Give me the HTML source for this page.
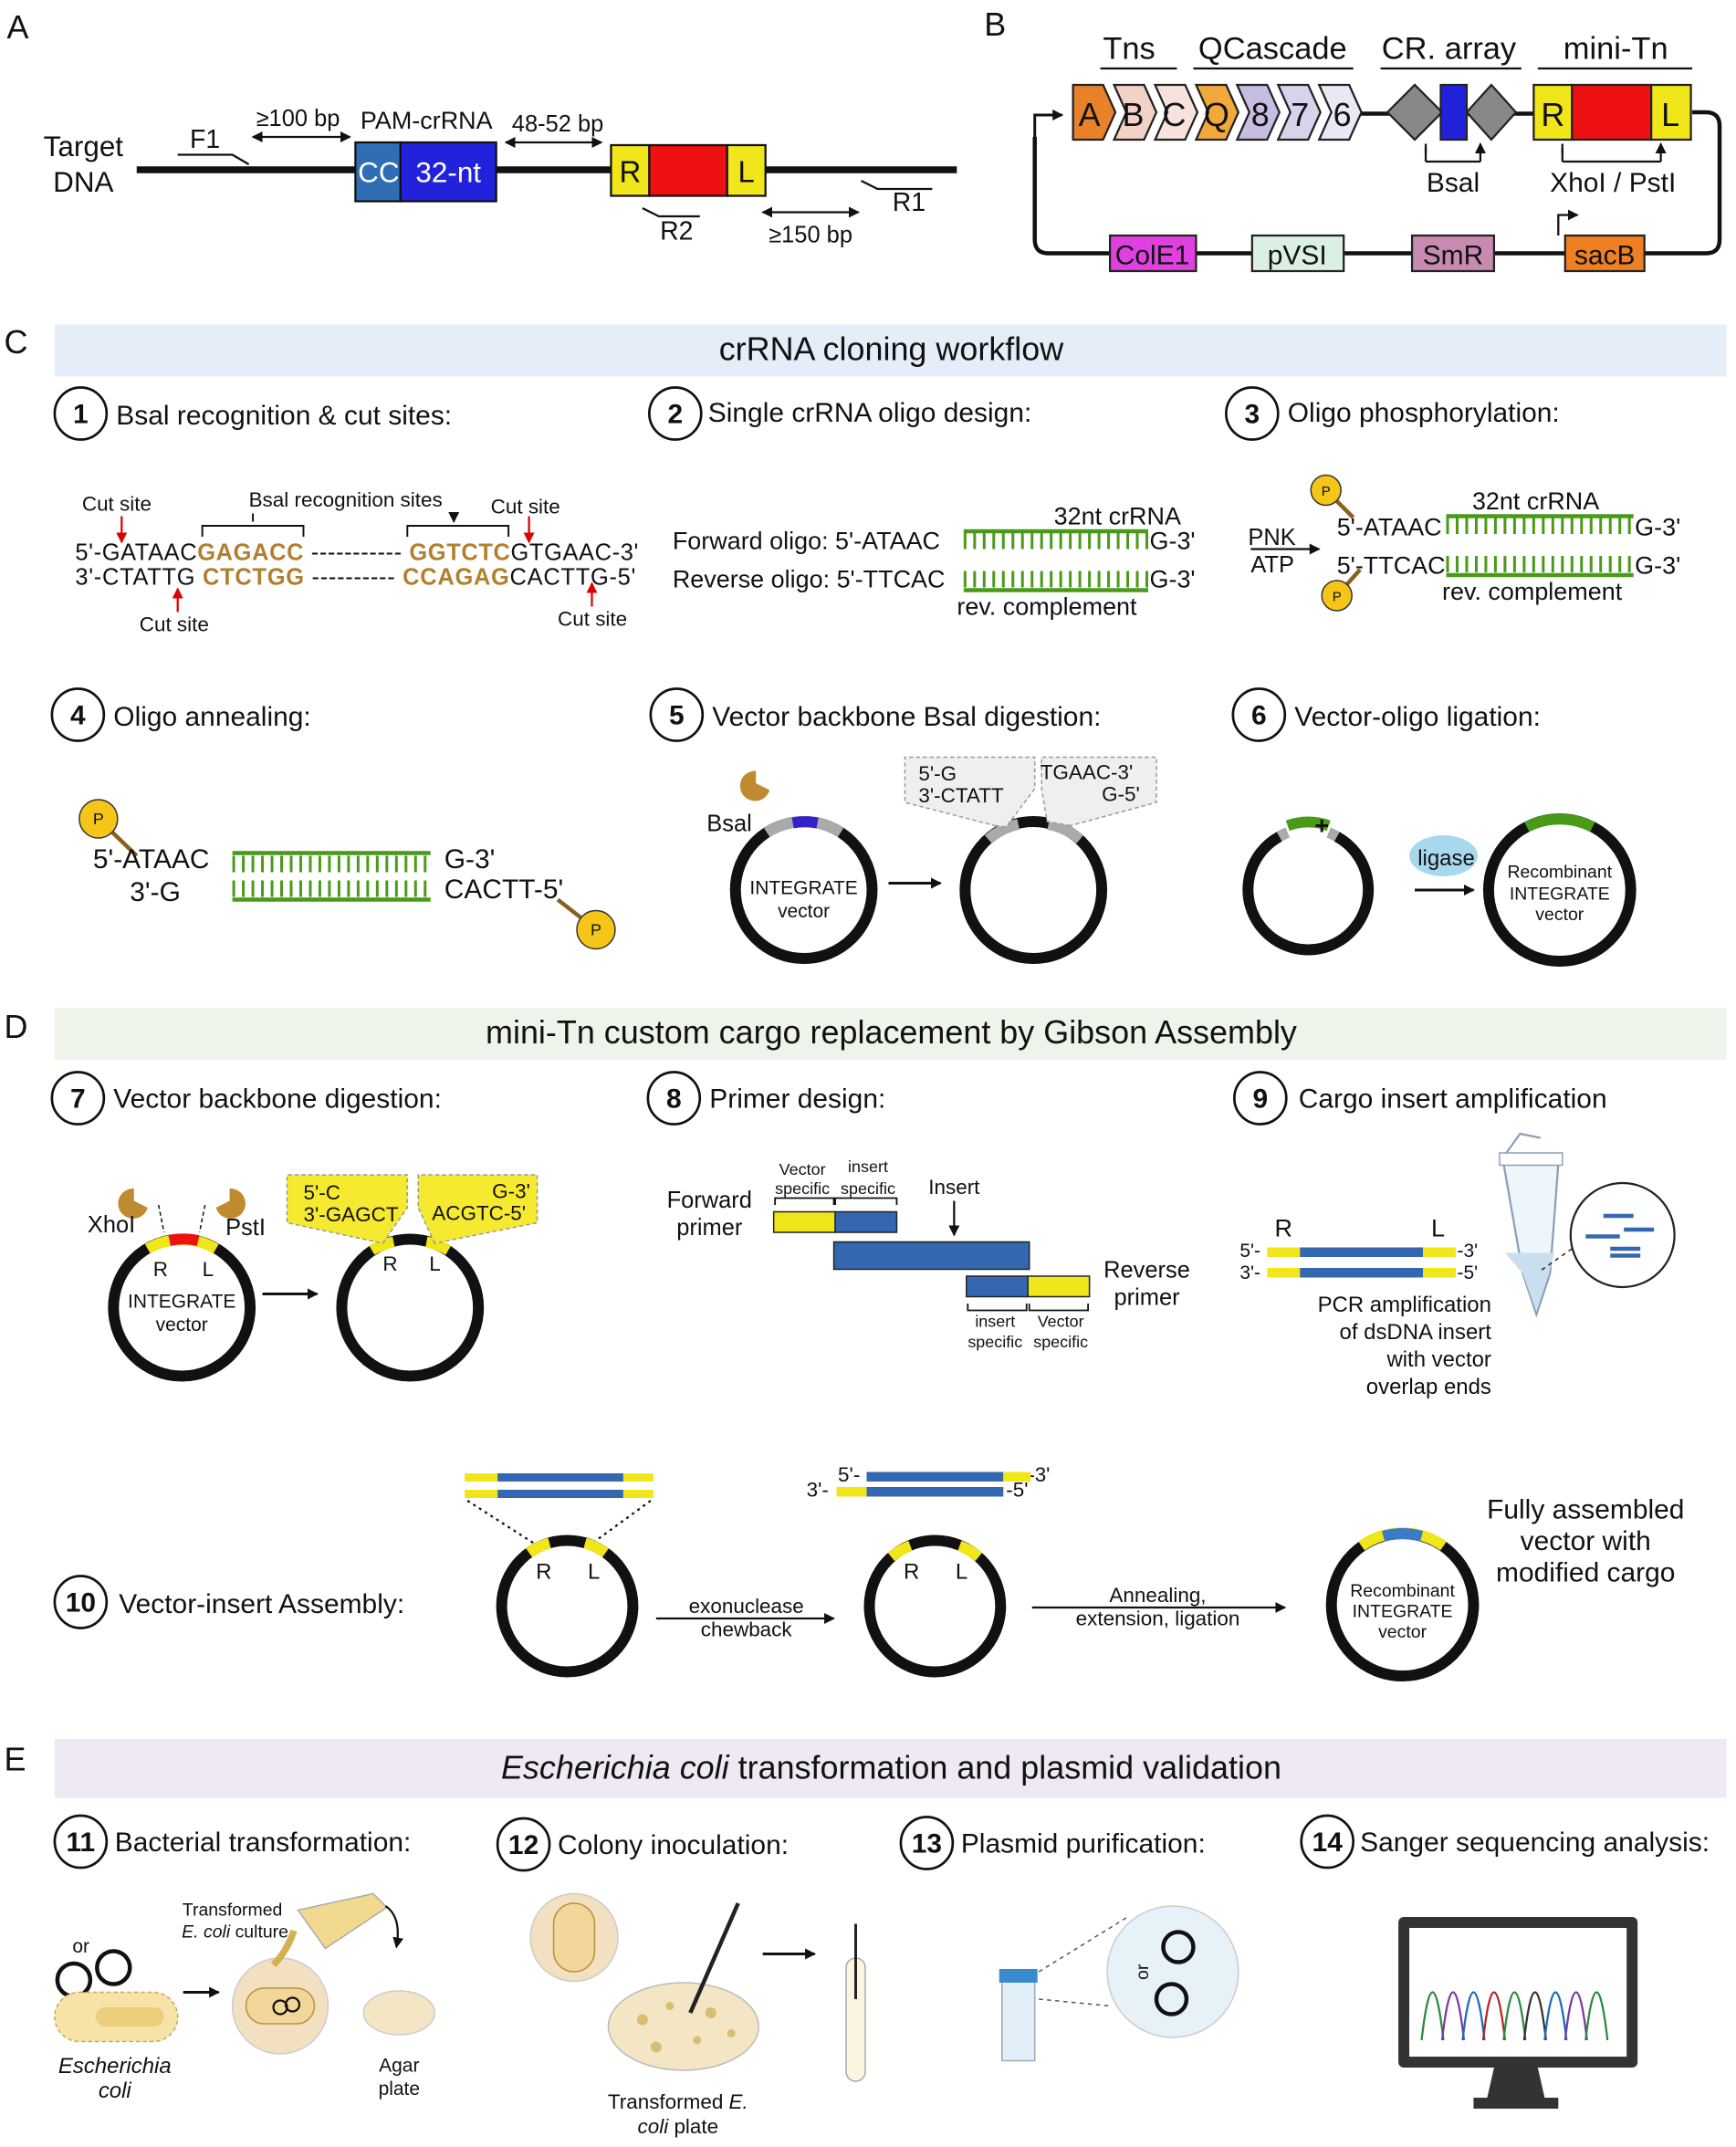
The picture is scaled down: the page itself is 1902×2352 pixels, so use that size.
<!DOCTYPE html>
<html><head><meta charset="utf-8"><style>
html,body{margin:0;padding:0;background:#fff}
svg{display:block}
text{font-family:"Liberation Sans",sans-serif;fill:#111}
</style></head><body>
<svg width="1902" height="2352" viewBox="0 0 1270 1568" preserveAspectRatio="none" xmlns="http://www.w3.org/2000/svg">
<defs>
<marker id="ah" markerWidth="8" markerHeight="8" refX="7" refY="4" orient="auto-start-reverse" markerUnits="userSpaceOnUse"><path d="M0,0 L8,4 L0,8 z" fill="#111"/></marker>
<marker id="ahr" markerWidth="8" markerHeight="8" refX="7" refY="4" orient="auto" markerUnits="userSpaceOnUse"><path d="M0,0 L8,4 L0,8 z" fill="#d00"/></marker>
</defs>

<!-- Panel A -->
<text x="5" y="28" font-size="24">A</text>
<text x="61" y="114" font-size="21" text-anchor="middle">Target</text>
<text x="61" y="140" font-size="21" text-anchor="middle">DNA</text>
<line x1="100" y1="124" x2="700" y2="124" stroke="#111" stroke-width="5"/>
<rect x="260" y="104" width="33" height="43" fill="#2f6db5" stroke="#111" stroke-width="1.5"/>
<rect x="293" y="104" width="70" height="43" fill="#2222dd" stroke="#111" stroke-width="1.5"/>
<text x="277" y="133" font-size="21" text-anchor="middle" style="fill:#fff">CC</text>
<text x="328" y="133" font-size="21" text-anchor="middle" style="fill:#fff">32-nt</text>
<rect x="447" y="106" width="28" height="37" fill="#f0e61a" stroke="#111" stroke-width="1.5"/>
<rect x="475" y="106" width="57" height="37" fill="#ee1111" stroke="#111" stroke-width="1.5"/>
<rect x="532" y="106" width="28" height="37" fill="#f0e61a" stroke="#111" stroke-width="1.5"/>
<text x="461" y="133" font-size="22" text-anchor="middle">R</text>
<text x="546" y="133" font-size="22" text-anchor="middle">L</text>
<text x="150" y="108" font-size="19" text-anchor="middle">F1</text>
<polyline points="130,113 170,113 182,120" fill="none" stroke="#111" stroke-width="1.5"/>
<text x="218" y="92" font-size="17" text-anchor="middle">≥100 bp</text>
<line x1="185" y1="100" x2="256" y2="100" stroke="#111" stroke-width="1.5" marker-start="url(#ah)" marker-end="url(#ah)"/>
<text x="312" y="94" font-size="18" text-anchor="middle">PAM-crRNA</text>
<text x="408" y="96" font-size="17" text-anchor="middle">48-52 bp</text>
<line x1="370" y1="104" x2="440" y2="104" stroke="#111" stroke-width="1.5" marker-start="url(#ah)" marker-end="url(#ah)"/>
<polyline points="470,152 482,158 512,158" fill="none" stroke="#111" stroke-width="1.5"/>
<text x="495" y="175" font-size="19" text-anchor="middle">R2</text>
<polyline points="630,132 642,138 682,138" fill="none" stroke="#111" stroke-width="1.5"/>
<text x="665" y="154" font-size="19" text-anchor="middle">R1</text>
<line x1="558" y1="155" x2="628" y2="155" stroke="#111" stroke-width="1.5" marker-start="url(#ah)" marker-end="url(#ah)"/>
<text x="593" y="177" font-size="17" text-anchor="middle">≥150 bp</text>

<!-- Panel B -->
<text x="720" y="26" font-size="24">B</text>
<text x="826" y="43" font-size="23" text-anchor="middle">Tns</text>
<path d="M805,50 h56" stroke="#111" stroke-width="1.5"/>
<text x="931" y="43" font-size="23" text-anchor="middle">QCascade</text>
<path d="M873,50 h117" stroke="#111" stroke-width="1.5"/>
<text x="1060" y="43" font-size="23" text-anchor="middle">CR. array</text>
<path d="M1010,50 h103" stroke="#111" stroke-width="1.5"/>
<text x="1182" y="43" font-size="23" text-anchor="middle">mini-Tn</text>
<path d="M1125,50 h113" stroke="#111" stroke-width="1.5"/>
<path d="M757,100 V175 q0,10 10,10 H1248 q10,0 10,-10 V92 q0,-10 -10,-10 H1238" fill="none" stroke="#111" stroke-width="3"/>
<path d="M757,100 V84 h20" fill="none" stroke="#111" stroke-width="2" marker-end="url(#ah)"/>
<line x1="995" y1="83" x2="1122" y2="83" stroke="#111" stroke-width="3"/>
<g stroke="#222" stroke-width="1.5">
<path d="M785,62 h22 l9,20 l-9,20 h-22 z" fill="#e8822a"/>
<path d="M815,62 h22 l9,20 l-9,20 h-22 l9,-20 z" fill="#f3d2c6"/>
<path d="M845,62 h22 l9,20 l-9,20 h-22 l9,-20 z" fill="#f7e2de"/>
<path d="M875,62 h22 l9,20 l-9,20 h-22 l9,-20 z" fill="#f2a93b"/>
<path d="M905,62 h22 l9,20 l-9,20 h-22 l9,-20 z" fill="#c6bde0"/>
<path d="M935,62 h22 l9,20 l-9,20 h-22 l9,-20 z" fill="#d8d2ea"/>
<path d="M965,62 h22 l9,20 l-9,20 h-22 l9,-20 z" fill="#ebe7f3"/>
<path d="M1015,82 l20,-20 l20,20 l-20,20 z" fill="#888"/>
<path d="M1073,82 l18,-20 l18,20 l-18,20 z" fill="#888"/>
<rect x="1054" y="62" width="19" height="40" fill="#2222dd"/>
<rect x="1122" y="62" width="28" height="40" fill="#f0e61a"/>
<rect x="1150" y="62" width="58" height="40" fill="#ee1111"/>
<rect x="1208" y="62" width="29" height="40" fill="#f0e61a"/>
</g>
<g font-size="24" text-anchor="middle">
<text x="797" y="92">A</text><text x="829" y="92">B</text><text x="859" y="92">C</text><text x="890" y="92">Q</text><text x="922" y="92">8</text><text x="951" y="92">7</text><text x="982" y="92">6</text>
<text x="1136" y="92">R</text><text x="1222" y="92">L</text>
</g>
<path d="M1043,118 h40 M1043,118 v-10 M1083,118 v-10" fill="none" stroke="#111" stroke-width="1.5"/>
<path d="M1043,112 v-7 M1083,112 v-7" stroke="#111" stroke-width="1.5" marker-end="url(#ah)"/>
<text x="1063" y="140" font-size="20" text-anchor="middle">Bsal</text>
<path d="M1143,118 h72 M1143,118 v-10 M1215,118 v-10" fill="none" stroke="#111" stroke-width="1.5"/>
<path d="M1143,112 v-7 M1215,112 v-7" stroke="#111" stroke-width="1.5" marker-end="url(#ah)"/>
<text x="1180" y="140" font-size="20" text-anchor="middle">XhoI / PstI</text>
<g stroke="#222" stroke-width="1.5">
<rect x="812" y="172" width="63" height="26" fill="#e040e0"/>
<rect x="916" y="172" width="67" height="26" fill="#d9f0e2"/>
<rect x="1033" y="172" width="60" height="26" fill="#c98ab2"/>
<rect x="1145" y="172" width="58" height="26" fill="#f07f22"/>
</g>
<g font-size="20" text-anchor="middle"><text x="843" y="193">ColE1</text><text x="949" y="193">pVSI</text><text x="1063" y="193">SmR</text><text x="1174" y="193">sacB</text></g>
<path d="M1140,172 v-15 h14" fill="none" stroke="#111" stroke-width="1.5" marker-end="url(#ah)"/>

<!-- Panel C -->
<text x="3" y="258" font-size="24">C</text>
<rect x="40" y="237" width="1223" height="38" fill="#e4edf8"/>
<text x="652" y="263" font-size="24" text-anchor="middle">crRNA cloning workflow</text>
<g fill="none" stroke="#111" stroke-width="1.8">
<circle cx="59" cy="302" r="19"/><circle cx="494" cy="302" r="19"/><circle cx="916" cy="302" r="19"/>
<circle cx="57" cy="522" r="19"/><circle cx="495" cy="522" r="19"/><circle cx="921" cy="522" r="19"/>
<circle cx="57" cy="802" r="19"/><circle cx="493" cy="802" r="19"/><circle cx="922" cy="802" r="19"/>
<circle cx="59" cy="1170" r="19"/>
<circle cx="59" cy="1345" r="19"/><circle cx="383" cy="1347" r="19"/><circle cx="678" cy="1346" r="19"/><circle cx="971" cy="1345" r="19"/>
</g>
<g font-size="20" font-weight="bold" text-anchor="middle">
<text x="59" y="309">1</text><text x="494" y="309">2</text><text x="916" y="309">3</text>
<text x="57" y="529">4</text><text x="495" y="529">5</text><text x="921" y="529">6</text>
<text x="57" y="809">7</text><text x="493" y="809">8</text><text x="922" y="809">9</text>
<text x="59" y="1177">10</text>
<text x="59" y="1352">11</text><text x="383" y="1354">12</text><text x="678" y="1353">13</text><text x="971" y="1352">14</text>
</g>
<g font-size="20">
<text x="85" y="310">Bsal recognition &amp; cut sites:</text>
<text x="518" y="308">Single crRNA oligo design:</text>
<text x="942" y="308">Oligo phosphorylation:</text>
<text x="83" y="530">Oligo annealing:</text>
<text x="521" y="530">Vector backbone Bsal digestion:</text>
<text x="947" y="530">Vector-oligo ligation:</text>
<text x="83" y="809">Vector backbone digestion:</text>
<text x="519" y="809">Primer design:</text>
<text x="950" y="809">Cargo insert amplification</text>
<text x="87" y="1178">Vector-insert Assembly:</text>
<text x="84" y="1352">Bacterial transformation:</text>
<text x="408" y="1354">Colony inoculation:</text>
<text x="703" y="1353">Plasmid purification:</text>
<text x="995" y="1352">Sanger sequencing analysis:</text>
</g>

<!-- step1 -->
<g font-size="17">
<text x="60" y="373" font-size="15">Cut site</text>
<text x="182" y="370" font-size="15">Bsal recognition sites</text>
<text x="359" y="375" font-size="15">Cut site</text>
<text x="55" y="409" textLength="412">5'-GATAAC<tspan style="fill:#b08030" font-weight="bold">GAGACC</tspan> ----------- <tspan style="fill:#b08030" font-weight="bold">GGTCTC</tspan>GTGAAC-3'</text>
<text x="55" y="427" textLength="410">3'-CTATTG <tspan style="fill:#b08030" font-weight="bold">CTCTGG</tspan> ---------- <tspan style="fill:#b08030" font-weight="bold">CCAGAG</tspan>CACTTG-5'</text>
<text x="102" y="461" font-size="15">Cut site</text>
<text x="408" y="457" font-size="15">Cut site</text>
</g>
<path d="M148,392 v-8 h74 v8 M298,392 v-8 h74 v8" fill="none" stroke="#111" stroke-width="1.3"/>
<path d="M185,375 v6 M332,375 v6" stroke="#111" stroke-width="1.3" marker-end="url(#ah)"/>
<line x1="89" y1="377" x2="89" y2="396" stroke="#d00" stroke-width="1.5" marker-end="url(#ahr)"/>
<line x1="387" y1="377" x2="387" y2="396" stroke="#d00" stroke-width="1.5" marker-end="url(#ahr)"/>
<line x1="130" y1="447" x2="130" y2="430" stroke="#d00" stroke-width="1.5" marker-end="url(#ahr)"/>
<line x1="433" y1="443" x2="433" y2="426" stroke="#d00" stroke-width="1.5" marker-end="url(#ahr)"/>

<!-- step2 -->
<g font-size="18">
<text x="492" y="401">Forward oligo:  5'-ATAAC</text>
<text x="841" y="401">G-3'</text>
<text x="492" y="429">Reverse oligo:  5'-TTCAC</text>
<text x="841" y="429">G-3'</text>
<text x="771" y="383">32nt crRNA</text>
<text x="700" y="449">rev. complement</text>
</g>
<g stroke="#4a9a1a"><line x1="705" y1="388" x2="840" y2="388" stroke-width="3"/><line x1="705" y1="395" x2="840" y2="395" stroke-width="12" stroke-dasharray="2 5"/>
<line x1="705" y1="431" x2="840" y2="431" stroke-width="3"/><line x1="705" y1="423" x2="840" y2="423" stroke-width="12" stroke-dasharray="2 5"/></g>

<!-- step3 -->
<text x="913" y="398" font-size="17">PNK</text><text x="915" y="418" font-size="17">ATP</text>
<line x1="915" y1="401" x2="965" y2="401" stroke="#111" stroke-width="1.5" marker-end="url(#ah)"/>
<g font-size="18"><text x="978" y="391">5'-ATAAC</text><text x="1196" y="391">G-3'</text><text x="978" y="419">5'-TTCAC</text><text x="1196" y="419">G-3'</text>
<text x="1077" y="372">32nt crRNA</text><text x="1055" y="438">rev. complement</text></g>
<g stroke="#4a9a1a"><line x1="1058" y1="377" x2="1195" y2="377" stroke-width="3"/><line x1="1058" y1="384" x2="1195" y2="384" stroke-width="12" stroke-dasharray="2 5"/>
<line x1="1058" y1="420" x2="1195" y2="420" stroke-width="3"/><line x1="1058" y1="412" x2="1195" y2="412" stroke-width="12" stroke-dasharray="2 5"/></g>
<line x1="970" y1="358" x2="990" y2="378" stroke="#8a6020" stroke-width="3"/><circle cx="970" cy="358" r="11" fill="#f5c518" stroke="#333"/><text x="970" y="362" font-size="10" text-anchor="middle">P</text>
<line x1="978" y1="435" x2="995" y2="416" stroke="#8a6020" stroke-width="3"/><circle cx="978" cy="435" r="11" fill="#f5c518" stroke="#333"/><text x="978" y="439" font-size="10" text-anchor="middle">P</text>

<!-- step4 -->
<line x1="72" y1="598" x2="100" y2="625" stroke="#8a6020" stroke-width="3"/><circle cx="72" cy="598" r="14" fill="#f5c518" stroke="#333"/><text x="72" y="602" font-size="12" text-anchor="middle">P</text>
<g font-size="20"><text x="68" y="634">5'-ATAAC</text><text x="95" y="658">3'-G</text><text x="325" y="634">G-3'</text><text x="325" y="656">CACTT-5'</text></g>
<g stroke="#4a9a1a"><line x1="170" y1="623" x2="315" y2="623" stroke-width="3"/><line x1="170" y1="631" x2="315" y2="631" stroke-width="12" stroke-dasharray="2 5"/>
<line x1="170" y1="657" x2="315" y2="657" stroke-width="3"/><line x1="170" y1="649" x2="315" y2="649" stroke-width="12" stroke-dasharray="2 5"/></g>
<line x1="408" y1="657" x2="435" y2="678" stroke="#8a6020" stroke-width="3"/><circle cx="436" cy="679" r="14" fill="#f5c518" stroke="#333"/><text x="436" y="683" font-size="12" text-anchor="middle">P</text>

<!-- step5 -->
<path d="M553,563 a11,11 0 1,0 10,14 l-10,-5 z" fill="#c08a30"/>
<text x="517" y="607" font-size="17">Bsal</text>
<circle cx="588" cy="650" r="50" fill="none" stroke="#111" stroke-width="8"/>
<path d="M561,608 A50,50 0 0,1 615,608" fill="none" stroke="#aaa" stroke-width="8"/>
<path d="M580,601 A50,50 0 0,1 598,601" fill="none" stroke="#3322cc" stroke-width="8"/>
<text x="588" y="653" font-size="14" text-anchor="middle">INTEGRATE</text><text x="588" y="670" font-size="14" text-anchor="middle">vector</text>
<line x1="650" y1="645" x2="688" y2="645" stroke="#111" stroke-width="2" marker-end="url(#ah)"/>
<circle cx="756" cy="650" r="50" fill="none" stroke="#111" stroke-width="8"/>
<path d="M723,613 A50,50 0 0,1 745,602" fill="none" stroke="#aaa" stroke-width="8"/>
<path d="M767,602 A50,50 0 0,1 790,613" fill="none" stroke="#aaa" stroke-width="8"/>
<path d="M728,603 L736,604 L757,576 V553 H662 V586 Z" fill="#efefef" stroke="#999" stroke-dasharray="3 2"/>
<path d="M783,603 L766,600 L762,576 V553 H846 V586 Z" fill="#efefef" stroke="#999" stroke-dasharray="3 2"/>
<text x="672" y="570" font-size="15">5'-G</text><text x="672" y="586" font-size="15">3'-CTATT</text>
<text x="761" y="569" font-size="15">TGAAC-3'</text><text x="806" y="585" font-size="15">G-5'</text>

<!-- step6 -->
<path d="M978,611 A44,44 0 1,1 936,611" fill="none" stroke="#111" stroke-width="8"/>
<path d="M942,603 A44,44 0 0,1 972,603" fill="none" stroke="#4a9a1a" stroke-width="8"/>
<path d="M936,611 A44,44 0 0,1 942,608 M972,608 A44,44 0 0,1 978,611" fill="none" stroke="#aaa" stroke-width="8"/>
<text x="967" y="609" font-size="18" font-weight="bold" text-anchor="middle">+</text>
<ellipse cx="1056" cy="625" rx="25" ry="15" fill="#a8d8ee"/>
<text x="1058" y="632" font-size="16" text-anchor="middle">ligase</text>
<line x1="1035" y1="650" x2="1078" y2="650" stroke="#111" stroke-width="2" marker-end="url(#ah)"/>
<circle cx="1141" cy="650" r="52" fill="none" stroke="#111" stroke-width="8"/>
<path d="M1117,604 A52,52 0 0,1 1165,604" fill="none" stroke="#4a9a1a" stroke-width="8"/>
<text x="1141" y="641" font-size="13" text-anchor="middle">Recombinant</text><text x="1141" y="657" font-size="13" text-anchor="middle">INTEGRATE</text><text x="1141" y="672" font-size="13" text-anchor="middle">vector</text>

<!-- Panel D -->
<text x="3" y="758" font-size="24">D</text>
<rect x="40" y="736" width="1223" height="38" fill="#eef4ea"/>
<text x="652" y="762" font-size="24" text-anchor="middle">mini-Tn custom cargo replacement by Gibson Assembly</text>

<!-- step7 -->
<path d="M98,868 a11,11 0 1,0 10,14 l-10,-5 z" fill="#c08a30"/>
<path d="M168,868 a11,11 0 1,1 -10,14 l10,-5 z" fill="#c08a30"/>
<text x="64" y="900" font-size="17">XhoI</text><text x="165" y="902" font-size="17">PstI</text>
<path d="M116,880 l4,20 M150,880 l-4,20" stroke="#111" stroke-dasharray="3 2"/>
<circle cx="133" cy="955" r="50" fill="none" stroke="#111" stroke-width="8"/>
<path d="M108,912 A50,50 0 0,1 158,912" fill="none" stroke="#f0e61a" stroke-width="8"/>
<path d="M124,906 A50,50 0 0,1 145,906" fill="none" stroke="#ee1111" stroke-width="8"/>
<text x="112" y="932" font-size="15">R</text><text x="148" y="932" font-size="15">L</text>
<text x="133" y="955" font-size="14" text-anchor="middle">INTEGRATE</text><text x="133" y="972" font-size="14" text-anchor="middle">vector</text>
<line x1="192" y1="945" x2="232" y2="945" stroke="#111" stroke-width="2" marker-end="url(#ah)"/>
<circle cx="300" cy="955" r="50" fill="none" stroke="#111" stroke-width="8"/>
<path d="M272,913 A50,50 0 0,1 288,907 M312,907 A50,50 0 0,1 328,913" fill="none" stroke="#f0e61a" stroke-width="8"/>
<text x="280" y="928" font-size="15">R</text><text x="314" y="928" font-size="15">L</text>
<path d="M280,908 L298,882 V858 H210 V893 Z" fill="#f5ea30" stroke="#999" stroke-dasharray="3 2"/>
<path d="M318,908 L306,882 V858 H393 V893 Z" fill="#f5ea30" stroke="#999" stroke-dasharray="3 2"/>
<text x="222" y="876" font-size="15">5'-C</text><text x="222" y="892" font-size="15">3'-GAGCT</text>
<text x="360" y="875" font-size="15">G-3'</text><text x="316" y="891" font-size="15">ACGTC-5'</text>

<!-- step8 -->
<text x="519" y="882" font-size="17" text-anchor="middle">Forward</text><text x="519" y="902" font-size="17" text-anchor="middle">primer</text>
<text x="587" y="858" font-size="12" text-anchor="middle">Vector</text><text x="587" y="872" font-size="12" text-anchor="middle">specific</text>
<text x="635" y="856" font-size="12" text-anchor="middle">insert</text><text x="635" y="872" font-size="12" text-anchor="middle">specific</text>
<path d="M567,880 v-5 h43 v5 M611,880 v-5 h45 v5" fill="none" stroke="#111" stroke-width="1.2"/>
<rect x="566" y="885" width="45" height="15" fill="#f0e61a" stroke="#222"/><rect x="611" y="885" width="45" height="15" fill="#3567b0" stroke="#222"/>
<text x="698" y="872" font-size="15" text-anchor="middle">Insert</text>
<line x1="698" y1="877" x2="698" y2="902" stroke="#111" stroke-width="1.5" marker-end="url(#ah)"/>
<rect x="610" y="907" width="143" height="20" fill="#3567b0" stroke="#222"/>
<rect x="707" y="932" width="45" height="15" fill="#3567b0" stroke="#222"/><rect x="752" y="932" width="45" height="15" fill="#f0e61a" stroke="#222"/>
<path d="M708,952 v5 h43 v-5 M753,952 v5 h43 v-5" fill="none" stroke="#111" stroke-width="1.2"/>
<text x="728" y="969" font-size="12" text-anchor="middle">insert</text><text x="776" y="969" font-size="12" text-anchor="middle">Vector</text>
<text x="728" y="984" font-size="12" text-anchor="middle">specific</text><text x="776" y="984" font-size="12" text-anchor="middle">specific</text>
<text x="839" y="933" font-size="17" text-anchor="middle">Reverse</text><text x="839" y="953" font-size="17" text-anchor="middle">primer</text>

<!-- step9 -->
<text x="939" y="903" font-size="18" text-anchor="middle">R</text><text x="1052" y="903" font-size="18" text-anchor="middle">L</text>
<text x="907" y="918" font-size="14">5'-</text><text x="907" y="934" font-size="14">3'-</text>
<text x="1066" y="918" font-size="14">-3'</text><text x="1066" y="934" font-size="14">-5'</text>
<rect x="927" y="911" width="24" height="7" fill="#f0e61a"/><rect x="951" y="911" width="90" height="7" fill="#3567b0"/><rect x="1041" y="911" width="24" height="7" fill="#f0e61a"/>
<rect x="927" y="926" width="24" height="7" fill="#f0e61a"/><rect x="951" y="926" width="90" height="7" fill="#3567b0"/><rect x="1041" y="926" width="24" height="7" fill="#f0e61a"/>
<g font-size="16" text-anchor="end"><text x="1091" y="958">PCR amplification</text><text x="1091" y="978">of dsDNA insert</text><text x="1091" y="998">with vector</text><text x="1091" y="1018">overlap ends</text></g>
<path d="M1100,850 h40 l-6,80 l-10,30 l-10,-30 z" fill="#eef5fb" stroke="#8aa0b8" stroke-width="1.5"/>
<path d="M1101,915 h36 l-4,15 l-9,28 l-10,-28 z" fill="#c9dff0"/>
<rect x="1097" y="842" width="46" height="9" fill="#fff" stroke="#8aa0b8"/>
<path d="M1102,842 l10,-14 l15,3" fill="none" stroke="#8aa0b8" stroke-width="1.5"/>
<circle cx="1187" cy="902" r="38" fill="#fff" stroke="#222" stroke-width="1.5"/>
<line x1="1150" y1="912" x2="1127" y2="928" stroke="#222" stroke-dasharray="3 3"/>
<g stroke-width="3"><line x1="1173" y1="888" x2="1195" y2="888" stroke="#3567b0"/><line x1="1160" y1="903" x2="1185" y2="903" stroke="#3567b0"/><line x1="1188" y1="898" x2="1210" y2="898" stroke="#3567b0"/><line x1="1178" y1="917" x2="1200" y2="917" stroke="#3567b0"/><line x1="1178" y1="912" x2="1200" y2="912" stroke="#3567b0"/></g>

<!-- step10 -->
<rect x="340" y="1076" width="24" height="6" fill="#f0e61a"/><rect x="364" y="1076" width="92" height="6" fill="#3567b0"/><rect x="456" y="1076" width="22" height="6" fill="#f0e61a"/>
<rect x="340" y="1088" width="24" height="6" fill="#f0e61a"/><rect x="364" y="1088" width="92" height="6" fill="#3567b0"/><rect x="456" y="1088" width="22" height="6" fill="#f0e61a"/>
<path d="M342,1096 L392,1128 M476,1096 L432,1128" stroke="#111" stroke-dasharray="2 3" stroke-width="1.5"/>
<circle cx="415" cy="1173" r="48" fill="none" stroke="#111" stroke-width="8"/>
<path d="M387,1134 A48,48 0 0,1 402,1127 M428,1127 A48,48 0 0,1 443,1134" fill="none" stroke="#f0e61a" stroke-width="8"/>
<text x="392" y="1153" font-size="16">R</text><text x="430" y="1153" font-size="16">L</text>
<text x="546" y="1178" font-size="15" text-anchor="middle">exonuclease</text><text x="546" y="1195" font-size="15" text-anchor="middle">chewback</text>
<line x1="480" y1="1182" x2="610" y2="1182" stroke="#111" stroke-width="1.5" marker-end="url(#ah)"/>
<text x="590" y="1093" font-size="15">3'-</text><text x="613" y="1082" font-size="15">5'-</text><text x="736" y="1093" font-size="15">-5'</text><text x="752" y="1082" font-size="15">-3'</text>
<rect x="612" y="1086" width="22" height="7" fill="#f0e61a"/><rect x="634" y="1086" width="100" height="7" fill="#3567b0"/>
<rect x="634" y="1075" width="100" height="7" fill="#3567b0"/><rect x="734" y="1075" width="20" height="7" fill="#f0e61a"/>
<circle cx="684" cy="1173" r="48" fill="none" stroke="#111" stroke-width="8"/>
<path d="M652,1137 A48,48 0 0,1 666,1129 M702,1129 A48,48 0 0,1 716,1137" fill="none" stroke="#f0e61a" stroke-width="8"/>
<text x="661" y="1153" font-size="16">R</text><text x="699" y="1153" font-size="16">L</text>
<text x="847" y="1170" font-size="15" text-anchor="middle">Annealing,</text><text x="847" y="1187" font-size="15" text-anchor="middle">extension, ligation</text>
<line x1="755" y1="1174" x2="940" y2="1174" stroke="#111" stroke-width="1.5" marker-end="url(#ah)"/>
<circle cx="1026" cy="1172" r="52" fill="none" stroke="#111" stroke-width="8"/>
<path d="M996,1129 A52,52 0 0,1 1056,1129" fill="none" stroke="#f0e61a" stroke-width="8"/>
<path d="M1012,1122 A52,52 0 0,1 1040,1122" fill="none" stroke="#3a7ac8" stroke-width="8"/>
<text x="1026" y="1166" font-size="13" text-anchor="middle">Recombinant</text><text x="1026" y="1181" font-size="13" text-anchor="middle">INTEGRATE</text><text x="1026" y="1196" font-size="13" text-anchor="middle">vector</text>
<g font-size="20" text-anchor="middle"><text x="1160" y="1109">Fully assembled</text><text x="1160" y="1132">vector with</text><text x="1160" y="1155">modified cargo</text></g>

<!-- Panel E -->
<text x="3" y="1293" font-size="24">E</text>
<rect x="40" y="1270" width="1223" height="43" fill="#efe9f3"/>
<text x="652" y="1299" font-size="24" text-anchor="middle"><tspan font-style="italic">Escherichia coli</tspan> transformation and plasmid validation</text>

<!-- step11 -->
<text x="53" y="1426" font-size="14">or</text>
<circle cx="54" cy="1446" r="12" fill="none" stroke="#111" stroke-width="3"/>
<circle cx="83" cy="1437" r="12" fill="none" stroke="#111" stroke-width="3"/>
<rect x="40" y="1455" width="90" height="36" rx="18" fill="#f7e3a8" stroke="#c9a65a" stroke-dasharray="3 2"/>
<rect x="70" y="1466" width="50" height="14" rx="7" fill="#eccf7c"/>
<text x="84" y="1514" font-size="16" font-style="italic" text-anchor="middle">Escherichia</text><text x="84" y="1532" font-size="16" font-style="italic" text-anchor="middle">coli</text>
<line x1="134" y1="1455" x2="160" y2="1455" stroke="#111" stroke-width="2" marker-end="url(#ah)"/>
<circle cx="205" cy="1465" r="35" fill="#f2e0c0" stroke="#ccc"/>
<rect x="180" y="1452" width="50" height="26" rx="13" fill="#f3d79a" stroke="#b89240"/>
<circle cx="205" cy="1466" r="5" fill="none" stroke="#111" stroke-width="1.5"/><circle cx="214" cy="1464" r="5" fill="none" stroke="#111" stroke-width="1.5"/>
<text x="170" y="1399" font-size="13" text-anchor="middle">Transformed</text><text x="172" y="1415" font-size="13" text-anchor="middle"><tspan font-style="italic">E. coli</tspan> culture</text>
<path d="M218,1395 l55,-12 l10,10 l-45,30 z" fill="#f2d990" stroke="#aaa"/>
<path d="M215,1410 q-5,15 -15,25" fill="none" stroke="#d4b050" stroke-width="5"/>
<path d="M282,1392 q12,8 8,30" fill="none" stroke="#111" stroke-width="1.5" marker-end="url(#ah)"/>
<ellipse cx="292" cy="1470" rx="26" ry="16" fill="#f4e6c4" stroke="#ccc"/>
<text x="292" y="1513" font-size="14" text-anchor="middle">Agar</text><text x="292" y="1530" font-size="14" text-anchor="middle">plate</text>

<!-- step12 -->
<circle cx="420" cy="1415" r="32" fill="#f2e0c0" stroke="#ccc"/>
<rect x="405" y="1390" width="30" height="50" rx="15" fill="#f3d79a" stroke="#b89240"/>
<ellipse cx="500" cy="1480" rx="55" ry="32" fill="#f4e6c4" stroke="#bbb"/>
<g fill="#d9bd70"><circle cx="470" cy="1475" r="4"/><circle cx="490" cy="1465" r="3"/><circle cx="520" cy="1470" r="4"/><circle cx="510" cy="1490" r="3"/><circle cx="480" cy="1495" r="4"/><circle cx="535" cy="1485" r="3"/></g>
<line x1="505" y1="1470" x2="540" y2="1390" stroke="#222" stroke-width="3"/>
<text x="496" y="1540" font-size="15" text-anchor="middle">Transformed <tspan font-style="italic">E.</tspan></text><text x="496" y="1558" font-size="15" text-anchor="middle"><tspan font-style="italic">coli</tspan> plate</text>
<line x1="558" y1="1427" x2="596" y2="1427" stroke="#111" stroke-width="2" marker-end="url(#ah)"/>
<rect x="619" y="1430" width="14" height="90" rx="7" fill="#fbf4e0" stroke="#aaa"/>
<line x1="626" y1="1405" x2="626" y2="1460" stroke="#222" stroke-width="2"/>

<!-- step13 -->
<rect x="733" y="1445" width="24" height="60" fill="#e2eef8" stroke="#9ab"/>
<rect x="731" y="1438" width="28" height="10" fill="#3a8ad0"/>
<circle cx="858" cy="1440" r="48" fill="#e6f1f8" stroke="#ccc"/>
<path d="M760,1460 L812,1465 M760,1440 L825,1400" stroke="#555" stroke-dasharray="3 3"/>
<circle cx="862" cy="1422" r="11" fill="none" stroke="#111" stroke-width="3"/><circle cx="857" cy="1460" r="11" fill="none" stroke="#111" stroke-width="3"/>
<text x="840" y="1446" font-size="13" transform="rotate(-90 840 1446)">or</text>

<!-- step14 -->
<rect x="1023" y="1400" width="175" height="110" rx="4" fill="#333"/>
<rect x="1031" y="1408" width="159" height="94" fill="#fff"/>
<polygon points="1093,1510 1125,1510 1130,1532 1088,1532" fill="#333"/>
<rect x="1078" y="1532" width="62" height="8" fill="#333"/>
<g fill="none" stroke-width="1.5">
<path d="M1040,1490 q8,-70 16,0" stroke="#2a8a3a"/><path d="M1055,1490 q8,-70 16,0" stroke="#7a3aa0"/>
<path d="M1070,1490 q8,-70 16,0" stroke="#1a6ac0"/><path d="M1085,1490 q8,-70 16,0" stroke="#c02020"/>
<path d="M1100,1490 q8,-70 16,0" stroke="#2a8a3a"/><path d="M1115,1490 q8,-70 16,0" stroke="#333"/>
<path d="M1130,1490 q8,-70 16,0" stroke="#1a6ac0"/><path d="M1145,1490 q8,-70 16,0" stroke="#7a3aa0"/>
<path d="M1160,1490 q8,-70 16,0" stroke="#2a8a3a"/>
</g>
</svg>
</body></html>
